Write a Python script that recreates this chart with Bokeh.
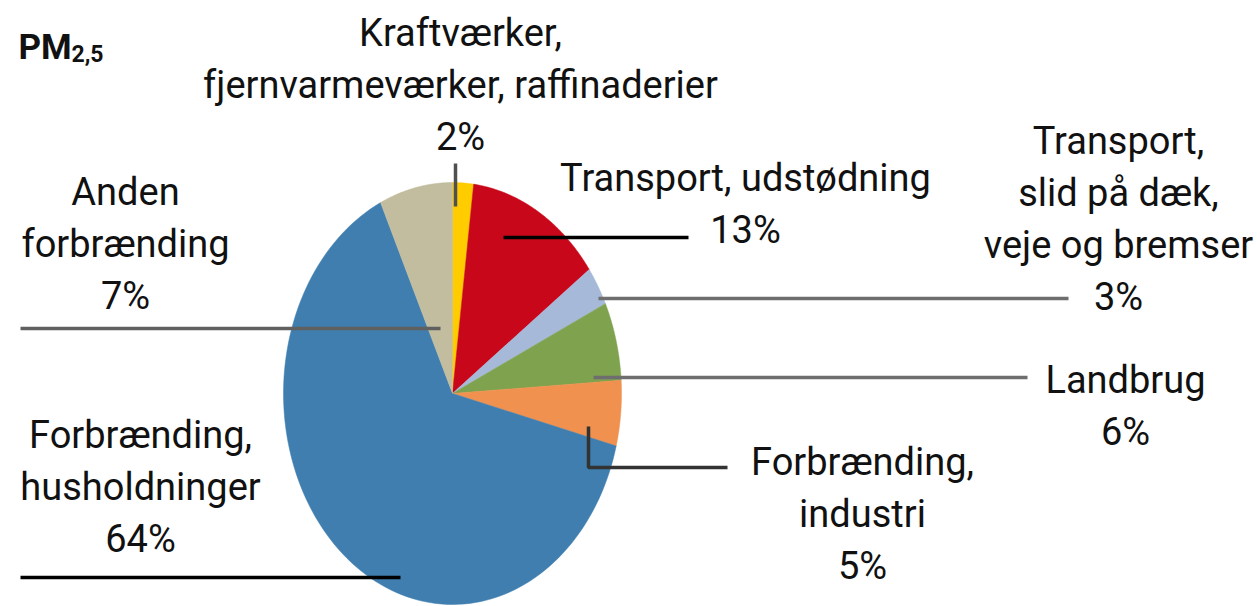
import numpy as np
from bokeh.plotting import figure
from bokeh.models import Range1d, ColumnDataSource
from bokeh.core.properties import value
from bokeh.embed import file_html
from bokeh.resources import INLINE

# ---- data ----
categories = ["Kraftværker, fjernvarmeværker, raffinaderier",
              "Transport, udstødning",
              "Transport, slid på dæk, veje og bremser",
              "Landbrug",
              "Forbrænding, industri",
              "Forbrænding, husholdninger",
              "Anden forbrænding"]
shares = [2, 13, 3, 6, 5, 64, 7]
colors = ["#FFCC00", "#C8081A", "#A6B9D8", "#7FA24E", "#F0914F", "#3F7EAF", "#C2BD9E"]
label_lines = [["Kraftværker,", "fjernvarmeværker, raffinaderier", "2%"],
               ["Transport, udstødning", "13%"],
               ["Transport,", "slid på dæk,", "veje og bremser", "3%"],
               ["Landbrug", "6%"],
               ["Forbrænding,", "industri", "5%"],
               ["Forbrænding,", "husholdninger", "64%"],
               ["Anden", "forbrænding", "7%"]]

# ---- layout (pixel-like coordinates, y downwards) ----
W, H = 1260, 606
cx, cy, rx, ry = 452, 393, 169, 211
label_pos = [(460, 32), (745, 177), (1118, 140), (1125, 379), (862, 461), (140, 434), (125, 191)]
line_gap = 52
leaders = [([455, 455], [163, 206], "#505050"),
           ([503, 688], [237, 237], "#000000"),
           ([598, 1068], [298, 298], "#6E6E6E"),
           ([593, 1027], [377, 377], "#6E6E6E"),
           ([588, 588, 727], [426, 467, 467], "#333333"),
           ([20, 440], [328, 328], "#606060"),
           ([20, 400], [577, 577], "#000000")]

p = figure(width=W, height=H, output_backend="svg", toolbar_location=None,
           x_range=Range1d(0, W), y_range=Range1d(H, 0), min_border=0)
p.axis.visible = False
p.grid.visible = False
p.outline_line_color = None
p.background_fill_color = "white"

vals = np.array(shares, dtype=float)
ends = np.cumsum(vals) / vals.sum() * 2 * np.pi
starts = np.concatenate([[0.0], ends[:-1]])
xs, ys = [], []
for a0, a1 in zip(starts, ends):
    t = np.linspace(a0, a1, 120)
    xs.append(list(np.concatenate([[cx], cx + rx * np.sin(t)])))
    ys.append(list(np.concatenate([[cy], cy - ry * np.cos(t)])))
p.patches(xs, ys, fill_color=colors, line_color=colors, line_width=0.5)

for lx, ly, lc in leaders:
    p.line(lx, ly, line_color=lc, line_width=3.5)

tx, ty, tt = [], [], []
for (x0, y0), lines in zip(label_pos, label_lines):
    for i, s in enumerate(lines):
        tx.append(x0)
        ty.append(y0 + i * line_gap)
        tt.append(s)
src = ColumnDataSource(dict(x=tx, y=ty, text=tt))
p.text(x="x", y="y", text="text", source=src, text_align="center", text_baseline="middle",
       text_font=value("Roboto"), text_font_size="38px", text_color="#111111")

p.text(x=[18], y=[47], text=["PM"], text_align="left", text_baseline="alphabetic",
       text_font=value("Roboto"), text_font_size="35px", text_font_style="bold",
       text_color="#111111")
p.text(x=[71], y=[53], text=["2,5"], text_align="left", text_baseline="alphabetic",
       text_font=value("Roboto"), text_font_size="23px", text_font_style="bold",
       text_color="#111111")

open("out.html", "w").write(file_html(p, INLINE))
